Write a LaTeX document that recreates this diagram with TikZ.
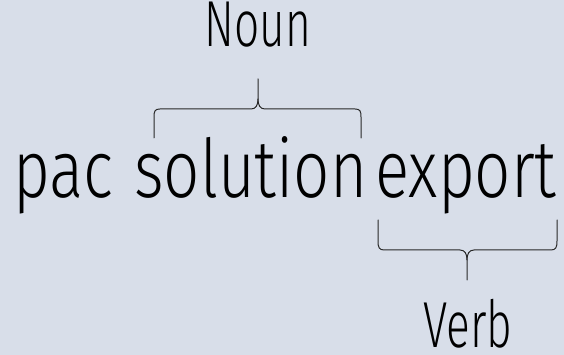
\documentclass[tikz,border=0pt]{standalone}
\usepackage{fontspec}
\setmainfont[FakeStretch=0.785]{Fira Sans Light}
\newfontfamily\tagfont[FakeStretch=0.68]{Fira Sans Light}
\usepackage{tikz}
\definecolor{bgpage}{RGB}{216,222,233}
\definecolor{bracegray}{RGB}{40,40,40}

\begin{document}
\begin{tikzpicture}[line cap=round,line join=round,x=1pt,y=1pt,
  word/.style={anchor=base west,inner sep=0pt,font=\fontsize{81}{85}\selectfont},
  tag/.style={anchor=base,inner sep=0pt,font=\tagfont\fontsize{65}{68}\selectfont},
  wordbrace/.style={line width=1pt,color=bracegray}]
\fill[bgpage] (0,0) rectangle (564,355);
\useasboundingbox (0,0) rectangle (564,355);
% words
\node[word] (pac) at (13,157) {pac};
\node[word] (solution) at (134,157) {solution};
\node[word] (export) at (375,157) {export};
% labels
\node[tag] (noun) at (258,308) {Noun};
\node[tag] (verb) at (468,7) {Verb};
% brace over solution
\draw[wordbrace] (154,217) -- (154,238) .. controls (154,244) and (155,246) .. (160,246) -- (251,246) .. controls (256,246) and (258,250) .. (258,256) -- (258,276);
\draw[wordbrace] (258,256) .. controls (258,250) and (260,246) .. (265,246) -- (355,246) .. controls (360,246) and (361,244) .. (361,238) -- (361,217);
% brace under export
\draw[wordbrace] (378,135) -- (378,114) .. controls (378,108) and (379,105) .. (384,105) -- (460,105) .. controls (465,105) and (467,101) .. (467,95) -- (467,75);
\draw[wordbrace] (467,95) .. controls (467,101) and (469,105) .. (474,105) -- (551,105) .. controls (556,105) and (557,108) .. (557,114) -- (557,135);
\end{tikzpicture}
\end{document}
